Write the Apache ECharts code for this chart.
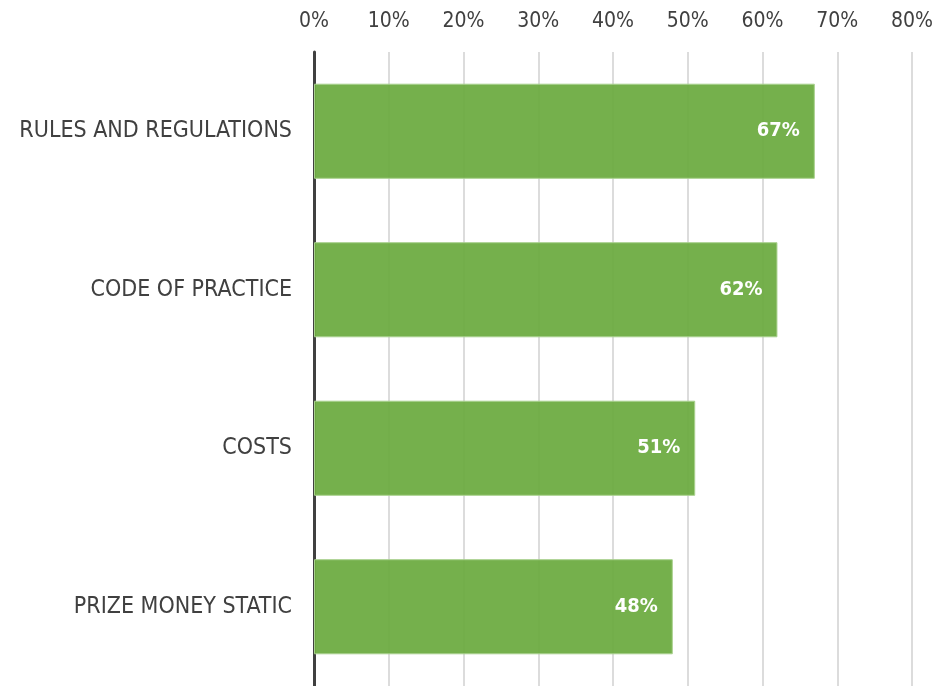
<!DOCTYPE html>
<html>
<head>
<meta charset="utf-8">
<script src="https://cdn.jsdelivr.net/npm/echarts@6/dist/echarts.min.js"></script>
<style>
  html, body { margin: 0; padding: 0; background: #fff; }
  #chart { width: 937px; height: 686px; }
</style>
</head>
<body>
<div id="chart"></div>
<script>
  // categories listed top to bottom
  const categories = ['RULES AND REGULATIONS', 'CODE OF PRACTICE', 'COSTS', 'PRIZE MONEY STATIC'];
  const values = [67, 62, 51, 48];
  const tickMax = 80;
  const tickStep = 10;

  const font = "'DejaVu Sans Condensed', 'Liberation Sans Narrow', sans-serif";

  const myChart = echarts.init(document.getElementById('chart'));
  const option = {
    animation: false,
    grid: {
      left: 314,
      right: 25,
      top: 52,
      height: 636
    },
    xAxis: {
      type: 'value',
      position: 'top',
      min: 0,
      max: tickMax,
      interval: tickStep,
      axisLine: { show: false },
      axisTick: { show: false },
      axisLabel: {
        formatter: '{value}%',
        color: '#404040',
        fontFamily: font,
        fontSize: 21,
        margin: 20
      },
      splitLine: { lineStyle: { color: '#d0d0d0', width: 1.5 } }
    },
    yAxis: {
      type: 'category',
      inverse: true,
      data: categories,
      axisLine: { lineStyle: { color: '#404040', width: 3 } },
      axisTick: { show: false },
      axisLabel: {
        color: '#404040',
        fontFamily: font,
        fontSize: 23,
        margin: 22
      }
    },
    series: [{
      type: 'bar',
      data: values,
      barCategoryGap: '40%',
      itemStyle: {
        color: 'rgba(110,172,66,0.95)',
        borderColor: '#a9d18e',
        borderWidth: 1
      },
      label: {
        show: true,
        position: 'insideRight',
        distance: 15,
        formatter: '{c}%',
        color: '#ffffff',
        fontFamily: font,
        fontWeight: 'bold',
        fontSize: 20
      }
    }]
  };
  myChart.setOption(option);
</script>
</body>
</html>
